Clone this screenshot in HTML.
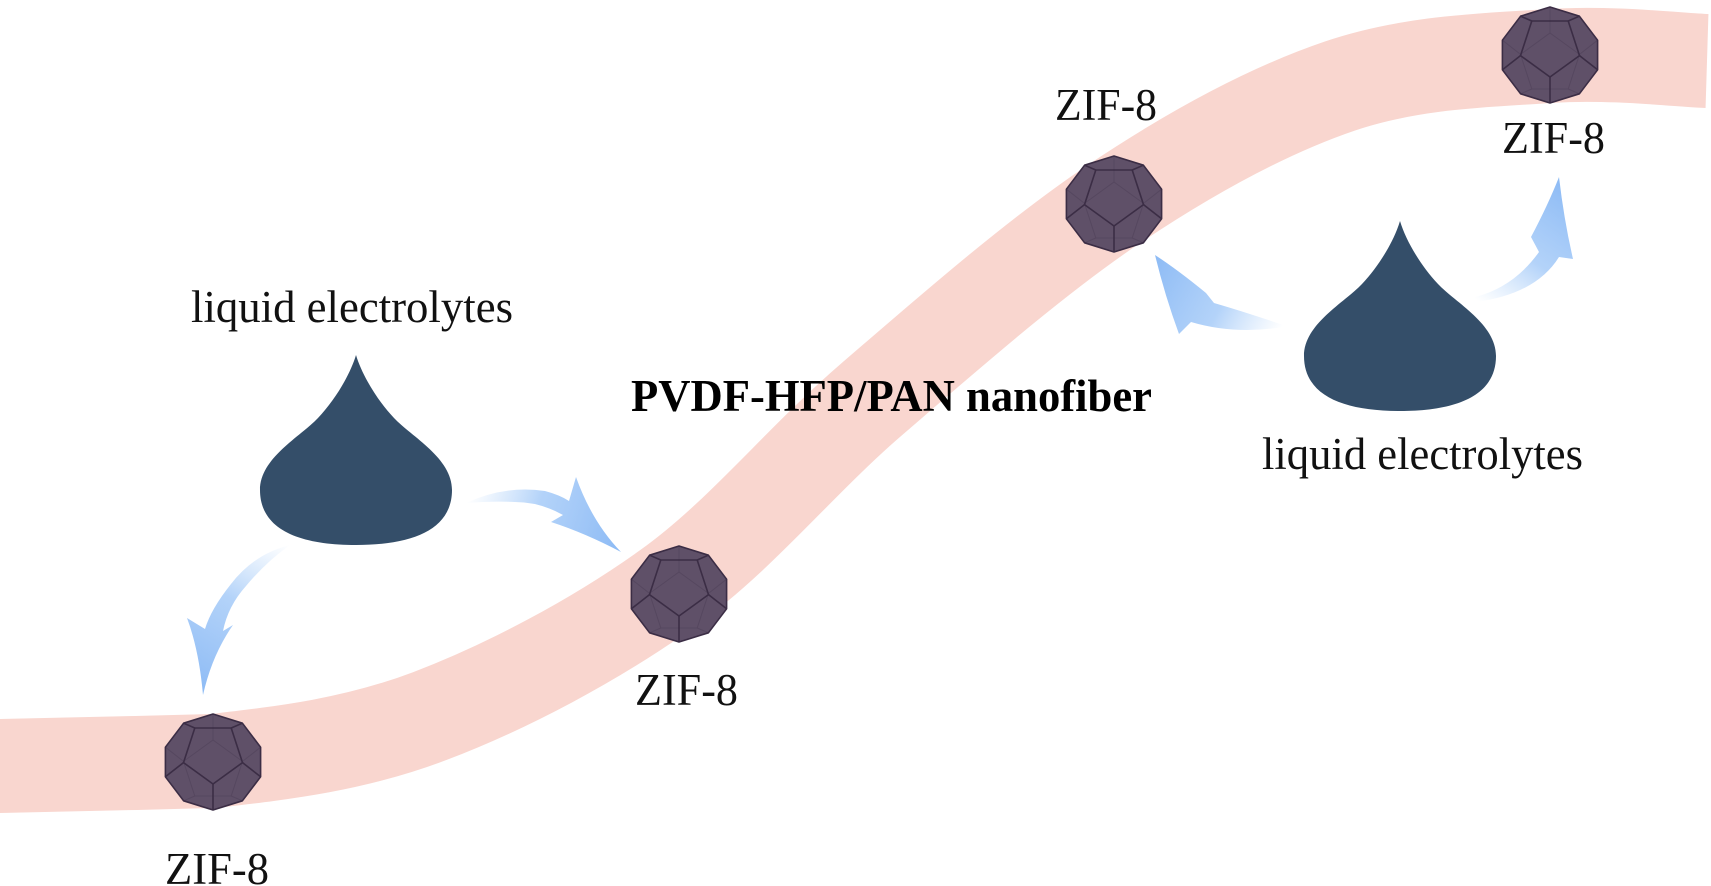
<!DOCTYPE html>
<html>
<head>
<meta charset="utf-8">
<style>
  html, body { margin: 0; padding: 0; background: #ffffff; }
  body { width: 1711px; height: 886px; overflow: hidden; }
  svg { display: block; }
  .lbl { font-family: "Liberation Serif", "Times New Roman", serif; font-size: 45px; fill: #111; }
  .bold { font-family: "Liberation Serif", "Times New Roman", serif; font-size: 45px; font-weight: bold; fill: #000; }
</style>
</head>
<body>
<svg width="1711" height="886" viewBox="0 0 1711 886" xmlns="http://www.w3.org/2000/svg">
  <defs>
    <g id="zif">
      <polygon points="0,-48 29.4,-38.8 47.6,-14.8 47.6,14.8 29.4,38.8 0,48 -29.4,38.8 -47.6,14.8 -47.6,-14.8 -29.4,-38.8"
               fill="#5f5068" stroke="#3b2d45" stroke-width="1.6" stroke-linejoin="round"/>
      <g stroke="#3b2d45" stroke-width="1" opacity="0.25" fill="none">
        <polygon points="0,-22 29.5,-0.6 18.2,34 -18.2,34 -29.5,-0.6"/>
        <line x1="0" y1="-22" x2="0" y2="-48"/>
        <line x1="29.5" y1="-0.6" x2="47.6" y2="-14.8"/>
        <line x1="18.2" y1="34" x2="29.4" y2="38.8"/>
        <line x1="-18.2" y1="34" x2="-29.4" y2="38.8"/>
        <line x1="-29.5" y1="-0.6" x2="-47.6" y2="-14.8"/>
      </g>
      <g stroke="#3b2d45" stroke-width="1.6" fill="none" stroke-linejoin="round">
        <polygon points="0,22 -29.5,0.6 -18.2,-34 18.2,-34 29.5,0.6"/>
        <line x1="0" y1="22" x2="0" y2="48"/>
        <line x1="-29.5" y1="0.6" x2="-47.6" y2="14.8"/>
        <line x1="-18.2" y1="-34" x2="-29.4" y2="-38.8"/>
        <line x1="18.2" y1="-34" x2="29.4" y2="-38.8"/>
        <line x1="29.5" y1="0.6" x2="47.6" y2="14.8"/>
      </g>
    </g>
    <linearGradient id="gA" gradientUnits="userSpaceOnUse" x1="290" y1="545" x2="205" y2="690">
      <stop offset="0" stop-color="#b9d7fa" stop-opacity="0"/>
      <stop offset="0.45" stop-color="#a6cbf8" stop-opacity="0.85"/>
      <stop offset="1" stop-color="#8fbcf5" stop-opacity="1"/>
    </linearGradient>
    <linearGradient id="gB" gradientUnits="userSpaceOnUse" x1="466" y1="503" x2="615" y2="548">
      <stop offset="0" stop-color="#b9d7fa" stop-opacity="0"/>
      <stop offset="0.45" stop-color="#a6cbf8" stop-opacity="0.85"/>
      <stop offset="1" stop-color="#8fbcf5" stop-opacity="1"/>
    </linearGradient>
    <linearGradient id="gC" gradientUnits="userSpaceOnUse" x1="1283" y1="326" x2="1158" y2="258">
      <stop offset="0" stop-color="#b9d7fa" stop-opacity="0"/>
      <stop offset="0.45" stop-color="#a6cbf8" stop-opacity="0.85"/>
      <stop offset="1" stop-color="#8fbcf5" stop-opacity="1"/>
    </linearGradient>
    <linearGradient id="gD" gradientUnits="userSpaceOnUse" x1="1475" y1="299" x2="1557" y2="182">
      <stop offset="0" stop-color="#b9d7fa" stop-opacity="0"/>
      <stop offset="0.45" stop-color="#a6cbf8" stop-opacity="0.85"/>
      <stop offset="1" stop-color="#8fbcf5" stop-opacity="1"/>
    </linearGradient>
  </defs>

  <!-- nanofiber band -->
  <path d="M -10 766 L 0 766
           C 35.5 765.2, 141 763, 213 761
           C 284.7 752.7, 354.2 744.8, 430 716
           C 505.8 687.2, 594.3 640.8, 668 588
           C 741.7 535.2, 797.7 463, 872 399
           C 946.3 335, 1036 256.2, 1114 204
           C 1192 151.8, 1267.3 110.7, 1340 86
           C 1412.7 61.3, 1488.8 60.2, 1550 56
           C 1611.2 51.8, 1680.8 60.2, 1707 61"
        fill="none" stroke="#f9d6cf" stroke-width="94" stroke-linecap="butt"/>

  <!-- ZIF-8 particles -->
  <use href="#zif" x="213" y="762"/>
  <use href="#zif" x="679" y="594"/>
  <use href="#zif" x="1114" y="204"/>
  <use href="#zif" x="1550" y="55"/>

  <!-- drops -->
  <path d="M356,355 C350,375 335,400 318,418 C300,437 260,458 260,490 C260,530 300,545 356,545 C412,545 452,530 452,490 C452,458 412,437 394,418 C377,400 362,375 356,355 Z" fill="#344e69"/>
  <path d="M1400,221 C1394,241 1379,266 1362,284 C1344,303 1304,324 1304,356 C1304,396 1344,411 1400,411 C1456,411 1496,396 1496,356 C1496,324 1456,303 1438,284 C1421,266 1406,241 1400,221 Z" fill="#344e69"/>

  <!-- arrows -->
  <path d="M290,545 Q254,554 231,584 Q211,609 205,629 L187,618 Q199,650 203,695 Q212,655 233,625 L223,631 Q228,606 246,586 Q266,562 290,545 Z" fill="url(#gA)"/>
  <path d="M466,503 Q505,485 545,491 Q560,495 569,501 L576,477 Q592,522 621,552 Q585,533 551,522 L563,515 Q540,502 515,502 Q490,501 466,503 Z" fill="url(#gB)"/>
  <path d="M1283,325 Q1245,312 1214,303 L1206,293 Q1178,270 1155,255 Q1165,296 1179,334 L1191,322 Q1235,335 1283,327 Z" fill="url(#gC)"/>
  <path d="M1475,297 Q1514,287 1539,252 L1531,237 Q1548,205 1559,177 Q1564,220 1573,259 L1559,257 Q1536,294 1476,302 Z" fill="url(#gD)"/>

  <!-- labels -->
  <text class="lbl" x="191" y="322" textLength="322" lengthAdjust="spacingAndGlyphs">liquid electrolytes</text>
  <text class="lbl" x="1262" y="469" textLength="321" lengthAdjust="spacingAndGlyphs">liquid electrolytes</text>
  <text class="bold" x="631" y="411" textLength="521" lengthAdjust="spacingAndGlyphs">PVDF-HFP/PAN nanofiber</text>
  <text class="lbl" x="165" y="884" textLength="104" lengthAdjust="spacingAndGlyphs">ZIF-8</text>
  <text class="lbl" x="635" y="705" textLength="103" lengthAdjust="spacingAndGlyphs">ZIF-8</text>
  <text class="lbl" x="1055" y="120" textLength="102" lengthAdjust="spacingAndGlyphs">ZIF-8</text>
  <text class="lbl" x="1502" y="153" textLength="103" lengthAdjust="spacingAndGlyphs">ZIF-8</text>
</svg>
</body>
</html>
